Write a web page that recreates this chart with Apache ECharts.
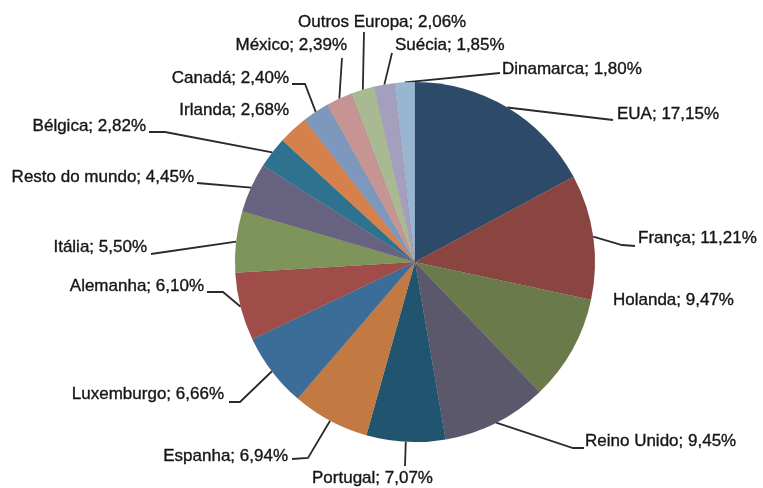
<!DOCTYPE html>
<html><head><meta charset="utf-8">
<script src="https://cdn.jsdelivr.net/npm/echarts@6/dist/echarts.min.js"></script>
<style>html,body{margin:0;padding:0;background:#fff}#c{width:763px;height:488px}</style>
</head><body><div id="c"></div>
<script>
// ---- data ----
const countries = ['EUA','França','Holanda','Reino Unido','Portugal','Espanha','Luxemburgo','Alemanha','Itália','Resto do mundo','Bélgica','Irlanda','Canadá','México','Outros Europa','Suécia','Dinamarca'];
const shares = [17.15,11.21,9.47,9.45,7.07,6.94,6.66,6.10,5.50,4.45,2.82,2.68,2.40,2.39,2.06,1.85,1.80];

// ---- styles ----
const sliceColors = ['#2d4b69','#8a4540','#6b7a4a','#5b586c','#21546f','#c27a42','#3c6c98','#a04c48','#7d955b','#66627f','#2f7290','#d6804c','#7e97bd','#c69593','#a9ba93','#a39fbd','#98b6d2'];

// ---- label placement (annotation layout only) ----
const labelSpots = {
  'EUA':            {x:617, y:114, align:'left',  end:[613,120]},
  'França':         {x:638, y:238, align:'left',  elbow:[622,245], end:[635,246]},
  'Holanda':        {x:613, y:300, align:'left'},
  'Reino Unido':    {x:585, y:441, align:'left',  elbow:[573,448], end:[584,448]},
  'Portugal':       {x:312, y:478, align:'left',  end:[405,466]},
  'Espanha':        {x:288, y:456, align:'right', elbow:[308,458], end:[292,459]},
  'Luxemburgo':     {x:224, y:394, align:'right', elbow:[240,402], end:[229,402]},
  'Alemanha':       {x:204, y:286, align:'right', elbow:[223,292], end:[207,292]},
  'Itália':         {x:147, y:247, align:'right', end:[151,254]},
  'Resto do mundo': {x:194, y:177, align:'right', end:[197,183]},
  'Bélgica':        {x:146, y:126, align:'right', elbow:[165,132], end:[149,132]},
  'Irlanda':        {x:289, y:110, align:'right'},
  'Canadá':         {x:289, y:78,  align:'right', elbow:[305,84], end:[292,84]},
  'México':         {x:347, y:45,  align:'right', end:[342,58]},
  'Outros Europa':  {x:298, y:22,  align:'left',  end:[364,32]},
  'Suécia':         {x:395, y:45,  align:'left',  end:[392,53]},
  'Dinamarca':      {x:502, y:69,  align:'left',  end:[500,73]}
};

const pieData = countries.map((name, i) => ({
  name: name,
  value: shares[i],
  itemStyle: {color: sliceColors[i]},
  labelLine: {show: !!labelSpots[name].end}
}));

const chart = echarts.init(document.getElementById('c'), null, {renderer:'canvas'});
chart.setOption({
  backgroundColor: '#ffffff',
  animation: false,
  series: [{
    type: 'pie',
    center: [415, 262],
    radius: 180,
    startAngle: 90,
    clockwise: true,
    avoidLabelOverlap: false,
    data: pieData,
    itemStyle: {borderWidth: 0.4, borderColor: 'rgba(40,40,40,0.18)'},
    label: {
      show: true,
      position: 'outside',
      overflow: 'none',
      fontFamily: "'Liberation Sans', Arial, sans-serif",
      fontSize: 17,
      color: '#151515',
      textBorderColor: '#151515',
      textBorderWidth: 0.35,
      formatter: p => p.name + '; ' + p.value.toFixed(2).replace('.', ',') + '%'
    },
    labelLine: {show: true, length: 10, length2: 10, lineStyle: {color: '#2a2a2a', width: 1.8}},
    emphasis: {disabled: true},
    labelLayout: function (params) {
      const name = countries[params.dataIndex];
      const s = labelSpots[name];
      const out = {x: s.x, y: s.y, align: s.align, verticalAlign: 'middle'};
      if (s.end && params.labelLinePoints) {
        const p0 = params.labelLinePoints[0];
        const mid = s.elbow || s.end;
        out.labelLinePoints = [[p0[0], p0[1]], mid, s.end];
      }
      return out;
    }
  }]
});
</script>
</body></html>
